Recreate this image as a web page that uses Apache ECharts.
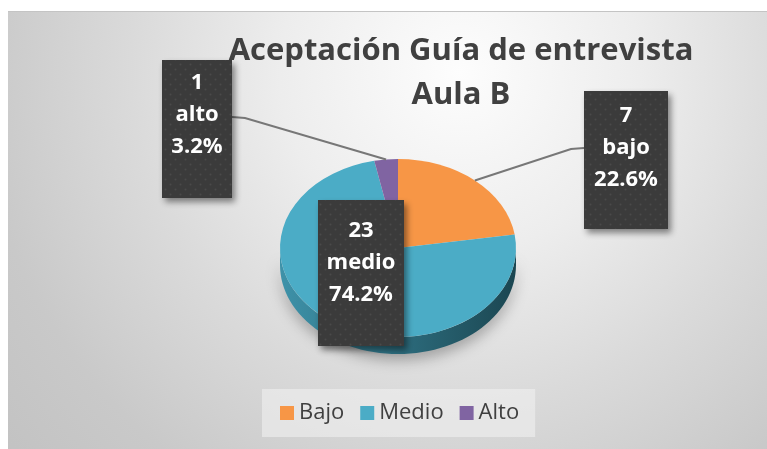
<!DOCTYPE html>
<html lang="es">
<head>
<meta charset="UTF-8">
<title>Aceptación Guía de entrevista Aula B</title>
<script src="https://cdn.jsdelivr.net/npm/echarts@6/dist/echarts.min.js"></script>
<style>
body { margin: 0; background: #fff; }
#main {
  position: absolute;
  left: 8px;
  top: 11px;
  width: 759px;
  height: 438px;
  border-top: 1px solid #c4c4c4;
  background: radial-gradient(circle 600px at 452px 60px, #fdfdfd 0%, #ededed 30%, #dadada 55%, #c9c9c9 80%, #c2c2c2 100%);
}
</style>
</head>
<body>
<div id="main"></div>
<script>
// data
var categories = ['Bajo', 'Medio', 'Alto'];
var values = [7, 23, 1];
var colors = ['#f79646', '#4bacc6', '#8064a2'];
var sideColors = [['#c8752f', '#9c5521'], ['#3e92a9', '#1b4651'], ['#684f88', '#4a3766']];
var titleText = 'Aceptación Guía de entrevista\nAula B';

var total = values.reduce(function (s, v) { return s + v; }, 0);

// pie ellipse (3d look), in chart pixels
var pie = { cx: 390, cy: 236, a: 118, b: 89, depth: 17 };

// label boxes, same order as categories
var boxes = [
  { x: 576, y: 79, w: 84, h: 138, ty: 25, leader: 'left' },
  { x: 310, y: 188, w: 86, h: 146, ty: 31, leader: null },
  { x: 154, y: 48, w: 70, h: 138, ty: 23, leader: 'right' }
];

// dotted dark fill of the label boxes
var dots = document.createElement('canvas');
dots.width = 10; dots.height = 10;
var g = dots.getContext('2d');
g.fillStyle = '#3b3b3b';
g.fillRect(0, 0, 10, 10);
g.fillStyle = '#4a4a4a';
g.beginPath(); g.arc(2.5, 2.5, 1, 0, Math.PI * 2); g.fill();
g.beginPath(); g.arc(7.5, 7.5, 1, 0, Math.PI * 2); g.fill();

function sliceAngles(i) {
  var start = -Math.PI / 2;
  for (var k = 0; k < i; k++) start += values[k] / total * Math.PI * 2;
  return [start, start + values[i] / total * Math.PI * 2];
}

function renderSide(params, api) {
  var i = params.dataIndex;
  var ang = sliceAngles(i);
  var s = Math.max(ang[0], 0), e = Math.min(ang[1], Math.PI);
  if (e <= s) return { type: 'group', children: [] };
  var pts = [], n = 60, k, t;
  for (k = 0; k <= n; k++) {
    t = s + (e - s) * k / n;
    pts.push([pie.cx + pie.a * Math.cos(t), pie.cy + pie.b * Math.sin(t)]);
  }
  for (k = n; k >= 0; k--) {
    t = s + (e - s) * k / n;
    pts.push([pie.cx + pie.a * Math.cos(t), pie.cy + pie.b * Math.sin(t) + pie.depth]);
  }
  return {
    type: 'polygon',
    shape: { points: pts },
    style: {
      fill: {
        type: 'linear', global: true,
        x: pie.cx - pie.a, y: 0, x2: pie.cx + pie.a, y2: 0,
        colorStops: [{ offset: 0, color: sideColors[i][0] }, { offset: 1, color: sideColors[i][1] }]
      },
      shadowBlur: 14,
      shadowOffsetY: 6,
      shadowColor: 'rgba(0,0,0,0.3)'
    }
  };
}

function makeTop(i) {
  return function (params, api) {
    var ang = sliceAngles(i);
    return {
      type: 'sector',
      originX: pie.cx,
      originY: pie.cy,
      scaleY: pie.b / pie.a,
      shape: { cx: pie.cx, cy: pie.cy, r: pie.a, r0: 0, startAngle: ang[0], endAngle: ang[1], clockwise: true },
      style: { fill: colors[i] }
    };
  };
}

function renderLabel(params, api) {
  var i = params.dataIndex, box = boxes[i];
  var pct = (values[i] / total * 100).toFixed(1) + '%';
  var children = [];
  if (box.leader) {
    var ang = sliceAngles(i), m = (ang[0] + ang[1]) / 2;
    var px = pie.cx + pie.a * Math.cos(m), py = pie.cy + pie.b * Math.sin(m);
    var sx = box.leader === 'left' ? box.x : box.x + box.w;
    var bx = box.leader === 'left' ? sx - 13 : sx + 13;
    var sy = box.y + 57;
    children.push({
      type: 'polyline',
      shape: { points: [[sx, sy], [bx, sy + 1], [px, py]] },
      style: { stroke: '#777', lineWidth: 2, fill: null }
    });
  }
  children.push({
    type: 'rect',
    shape: { x: box.x, y: box.y, width: box.w, height: box.h },
    style: {
      fill: { image: dots, repeat: 'repeat' },
      shadowBlur: 6, shadowOffsetX: 3, shadowOffsetY: 4, shadowColor: 'rgba(0,0,0,0.45)'
    }
  });
  children.push({
    type: 'text',
    style: {
      text: values[i] + '\n' + categories[i].toLowerCase() + '\n' + pct,
      x: box.x + box.w / 2,
      y: box.y + box.ty - 16,
      align: 'center',
      verticalAlign: 'top',
      fill: '#fff',
      font: 'bold 22px "Open Sans"',
      lineHeight: 32
    }
  });
  return { type: 'group', children: children };
}

var chart = echarts.init(document.getElementById('main'));

var series = [{
  type: 'custom',
  name: 'lado',
  coordinateSystem: 'none',
  silent: true,
  z: 1,
  data: values,
  renderItem: renderSide
}];
categories.forEach(function (c, i) {
  series.push({
    type: 'custom',
    name: c,
    coordinateSystem: 'none',
    silent: true,
    z: 2,
    itemStyle: { color: colors[i] },
    data: [values[i]],
    renderItem: makeTop(i)
  });
});
series.push({
  type: 'custom',
  name: 'etiquetas',
  coordinateSystem: 'none',
  silent: true,
  z: 3,
  data: values,
  renderItem: renderLabel
});

chart.setOption({
  animation: false,
  graphic: [{
    type: 'text',
    x: 453,
    y: 17,
    z: 10,
    style: {
      text: titleText,
      align: 'center',
      verticalAlign: 'top',
      font: 'bold 31px "Open Sans"',
      lineHeight: 44,
      fill: '#404040'
    }
  }],
  legend: {
    data: categories,
    left: 254,
    top: 377,
    padding: [13, 16, 13, 18],
    itemGap: 16,
    itemWidth: 14,
    itemHeight: 14,
    icon: 'rect',
    backgroundColor: 'rgba(240,240,240,0.6)',
    textStyle: { fontFamily: 'Open Sans', fontSize: 22, color: '#404040' }
  },
  series: series
});
</script>
</body>
</html>
